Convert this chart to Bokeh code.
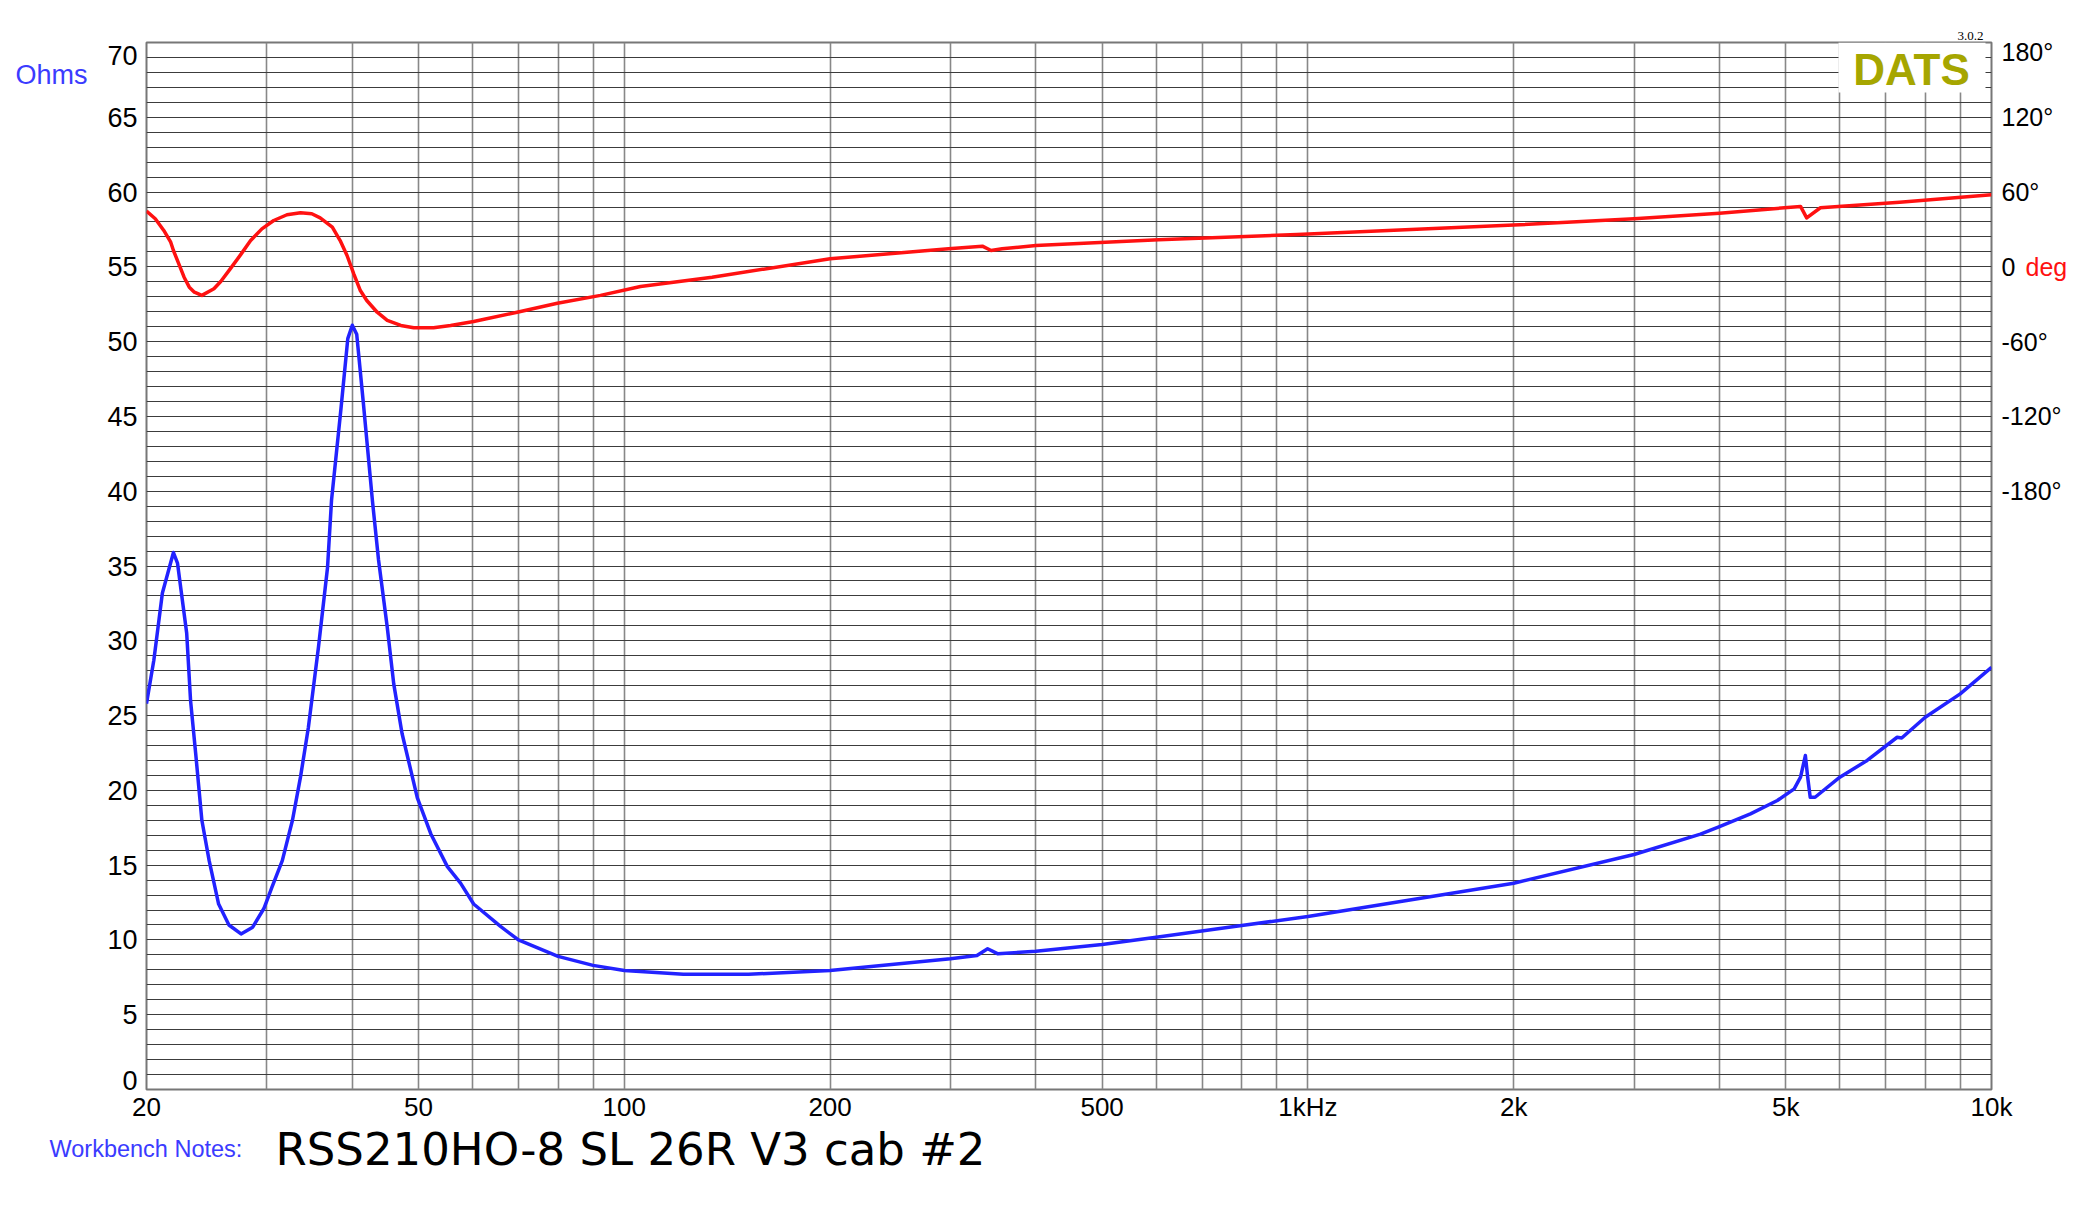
from bokeh.plotting import figure
from bokeh.models import (Range1d, LinearAxis, FixedTicker, Grid, Label, BoxAnnotation, Title)
from bokeh.embed import file_html
from bokeh.resources import INLINE

# ---------------- data ----------------
imp_freq = [20.0, 20.5, 21.1, 21.9, 22.2, 22.9, 23.2, 23.6, 24.1, 24.7, 25.5, 26.4, 27.5, 28.6,
            29.7, 30.5, 31.6, 32.7, 33.6, 34.5, 35.7, 36.8, 37.3, 38.5, 39.4, 40.0, 40.6, 41.5,
            42.8, 43.7, 45.0, 46.0, 47.3, 49.8, 52.1, 55.1, 57.6, 60.2, 65.9, 70, 80, 90, 100,
            122, 152, 200, 300, 328, 340, 352, 400, 500, 600, 800, 1000, 1395, 2000, 3000,
            3752, 4000, 4440, 4861, 5145, 5256, 5342, 5384, 5430, 5520, 6000, 6578, 7278,
            7390, 8000, 9000, 10000]
imp_ohms = [25.8, 28.7, 33.2, 35.9, 35.2, 30.5, 26.0, 22.5, 18.0, 15.3, 12.4, 11.0, 10.4, 10.85,
            12.1, 13.5, 15.3, 18.0, 20.9, 24.2, 29.6, 34.9, 39.4, 45.5, 50.2, 51.1, 50.5, 46.0,
            39.4, 35.4, 30.9, 27.1, 23.8, 19.5, 17.1, 14.9, 13.8, 12.4, 10.9, 10.0, 8.9, 8.3, 7.96,
            7.7, 7.7, 7.96, 8.74, 8.96, 9.41, 9.07, 9.25, 9.7, 10.18, 10.96, 11.57, 12.64, 13.79, 15.71,
            17.07, 17.58, 18.43, 19.32, 20.1, 20.88, 22.33, 20.88, 19.54, 19.54, 20.88, 22.0, 23.55,
            23.5, 24.89, 26.45, 28.23]

ph_freq = [20.0, 20.6, 21.2, 21.7, 21.9, 22.3, 22.7, 23.1, 23.5, 24.1, 25.1, 25.7, 26.5, 27.5,
           28.4, 29.5, 30.7, 32.1, 33.6, 34.9, 35.9, 37.4, 38.4, 39.3, 40.2, 41.1, 42.0, 43.5,
           45.0, 47.1, 49.2, 52.6, 55.7, 60.2, 69.7, 79.8, 92.3, 105.6, 134.4, 200, 298, 334,
           344, 357, 400, 605, 964, 2000, 3000, 4000, 5256, 5366, 5620, 7340, 10000]
ph_deg = [44.7, 38.6, 29.2, 19.8, 13.1, 2.4, -8.3, -16.3, -20.3, -22.9, -17.6, -11.5, -1.8, 10.2,
          21.1, 30.5, 37.2, 41.8, 43.4, 42.6, 39.3, 31.8, 21.1, 9.1, -5.6, -19.0, -27.0, -36.4,
          -43.0, -47.0, -48.9, -48.9, -47.0, -43.8, -36.4, -29.2, -22.9, -15.7, -8.3, 6.5, 14.5, 16.6,
          13.1, 14.5, 17.2, 21.7, 26.0, 33.5, 38.5, 43.0, 48.5, 39.3, 47.4, 51.9, 57.8]

x_ticks = [20, 50, 100, 200, 500, 1000, 2000, 5000, 10000]
x_tick_labels = ["20", "50", "100", "200", "500", "1kHz", "2k", "5k", "10k"]
y_ticks = list(range(0, 71, 5))
y_tick_labels = [str(v) for v in y_ticks]
deg_ticks = [-180, -120, -60, 0, 60, 120, 180]
deg_labels = ["-180°", "-120°", "-60°", "0", "60°", "120°", "180°"]

notes_label = "Workbench Notes:"
title_text = "RSS210HO-8 SL 26R V3 cab #2"


# ---------------- layout helpers ----------------
# reference pixel row -> value on the Ohms scale (frame top 42 px, bottom 1089 px)
def fy(py):
    return (1089.0 - py) / (1047.0 / 70.0)


def deg_of(ohm):
    return (ohm - 55.0) * 12.0


BLUE = "#2222ff"
RED = "#ff1111"
TXT_BLUE = "#3b3bff"
FONT = "Liberation Sans"

p = figure(x_axis_type="log", x_range=Range1d(20, 10000), y_range=Range1d(0, 70),
           frame_width=1845, frame_height=1047,
           min_border_left=146, min_border_right=79, min_border_top=42, min_border_bottom=110,
           output_backend="svg", toolbar_location=None, background_fill_color="white")
p.extra_y_ranges = {"phase": Range1d(deg_of(0), deg_of(70))}
p.outline_line_color = "#777777"
p.outline_line_width = 2
p.xgrid.visible = False
p.ygrid.visible = False

# grids
xg_ticks = [m * d for d in (10, 100, 1000) for m in range(1, 10) if 20 <= m * d <= 10000] + [10000]
p.add_layout(Grid(dimension=0, ticker=FixedTicker(ticks=xg_ticks),
                  grid_line_color="#888888", grid_line_width=1.6))
p.add_layout(Grid(dimension=1, ticker=FixedTicker(ticks=list(range(0, 71))),
                  grid_line_color="#3c3c3c", grid_line_width=1.2))


def style_axis(ax, size, standoff, color="black"):
    ax.axis_line_color = None
    ax.major_tick_line_color = None
    ax.minor_tick_line_color = None
    ax.major_tick_out = 0
    ax.major_tick_in = 0
    ax.minor_tick_out = 0
    ax.minor_tick_in = 0
    ax.major_label_text_font = FONT
    ax.major_label_text_font_size = size
    ax.major_label_standoff = standoff
    ax.major_label_text_color = color


# x axis
xa = p.xaxis[0]
xa.ticker = FixedTicker(ticks=x_ticks)
xa.major_label_overrides = dict(zip(x_ticks, x_tick_labels))
style_axis(xa, "26px", 2)

# left (Ohms) axis: end labels sit inside the frame height as in the reference
ya = p.yaxis[0]
y_pos = list(y_ticks)
y_pos[0] = fy(1080)
y_pos[-1] = fy(55)
ya.ticker = FixedTicker(ticks=y_pos)
ya.major_label_overrides = dict(zip(y_pos, y_tick_labels))
style_axis(ya, "27px", 9)

# "Ohms" caption as an outer left axis
ohm_pos = fy(74)
oa = LinearAxis(ticker=FixedTicker(ticks=[ohm_pos]))
oa.major_label_overrides = {ohm_pos: "Ohms"}
style_axis(oa, "27px", 17, TXT_BLUE)
p.add_layout(oa, "left")

# right (phase) axis
d_pos = list(deg_ticks)
d_pos[-1] = deg_of(fy(51))
ra = LinearAxis(y_range_name="phase", ticker=FixedTicker(ticks=d_pos))
ra.major_label_overrides = dict(zip(d_pos, deg_labels))
style_axis(ra, "25px", 10)
p.add_layout(ra, "right")

# red "deg" unit next to the 0 label
da = LinearAxis(y_range_name="phase", ticker=FixedTicker(ticks=[0]))
da.major_label_overrides = {0: "deg"}
style_axis(da, "25px", -39, RED)
p.add_layout(da, "right")

# curves
p.line(imp_freq, imp_ohms, line_color=BLUE, line_width=3.5, line_join="round")
p.line(ph_freq, ph_deg, y_range_name="phase", line_color=RED, line_width=3.5, line_join="round")

# DATS logo (inside frame)
p.add_layout(BoxAnnotation(left=1838 - 146, right=1985 - 146, top=1089 - 42, bottom=1089 - 92,
                           left_units="screen", right_units="screen", top_units="screen",
                           bottom_units="screen", fill_color="white", fill_alpha=1.0, line_color=None))
p.add_layout(Label(x=1911 - 146, y=1089 - 69, x_units="screen", y_units="screen", text="DATS",
                   text_align="center", text_baseline="middle", text_font=FONT,
                   text_font_style="bold", text_font_size="44px", text_color="#a6a600"))

# version number above the frame
p.add_layout(Title(text="3.0.2", align="right", offset=8, vertical_align="bottom", standoff=6,
                   text_font="Liberation Serif", text_font_size="13px", text_font_style="normal",
                   text_color="black"), "above")

# bottom notes
p.add_layout(Title(text=title_text, align="left", offset=129, vertical_align="top", standoff=-4,
                   text_font="DejaVu Sans", text_font_size="45px", text_font_style="normal",
                   text_color="black"), "below")
p.add_layout(Title(text=notes_label, align="left", offset=-97, vertical_align="top", standoff=-79,
                   text_font=FONT, text_font_size="23.5px", text_font_style="normal",
                   text_color=TXT_BLUE), "below")

open("out.html", "w").write(file_html(p, INLINE))
